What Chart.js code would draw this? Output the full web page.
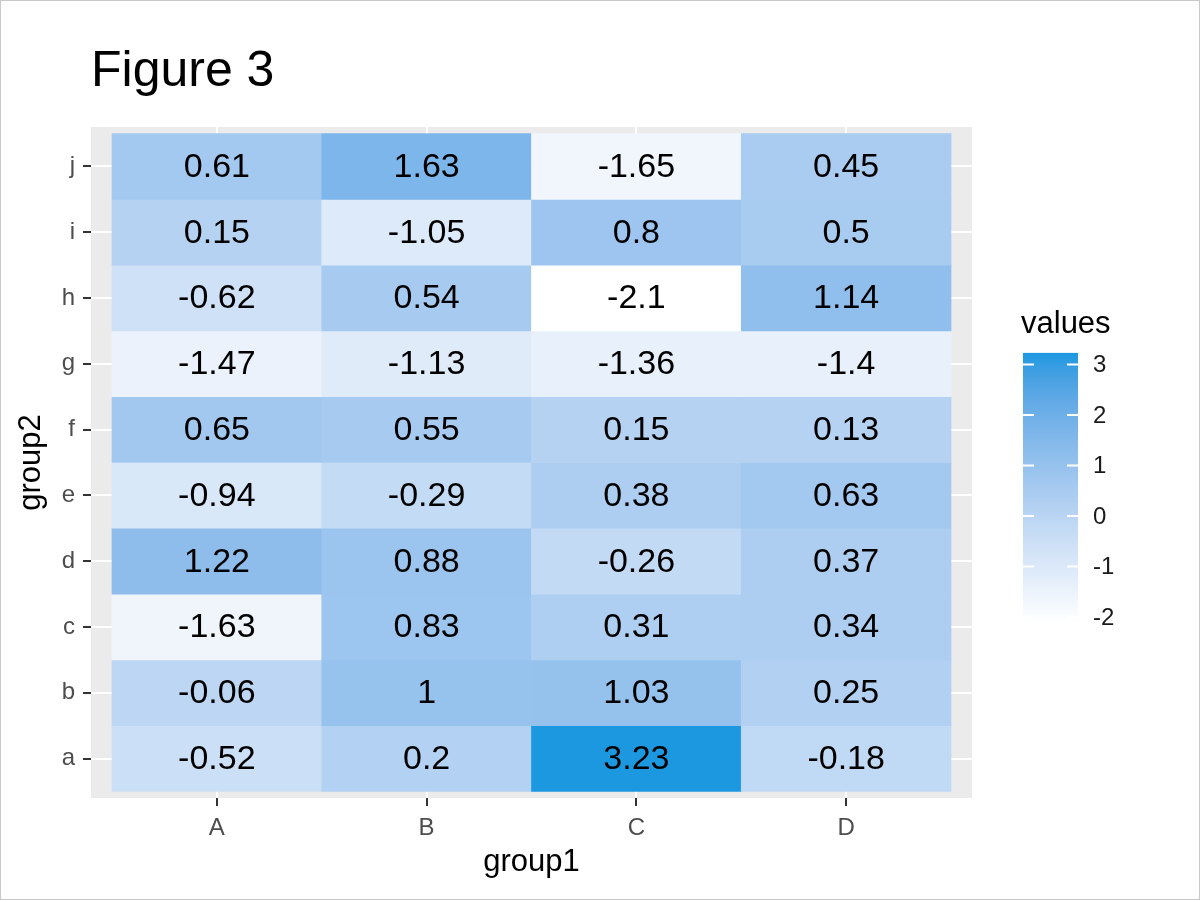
<!DOCTYPE html>
<html lang="en">
<head>
  <meta charset="UTF-8">
  <title>Figure 3</title>
  <script src="https://cdn.jsdelivr.net/npm/chart.js"></script>
  <style>
    body { margin: 0; background: #fff; }
    canvas { display: block; }
  </style>
</head>
<body>
  <canvas id="heat" width="1200" height="900"></canvas>
  <script>
    // categories
    const group1 = ['A', 'B', 'C', 'D'];
    const group2 = ['a', 'b', 'c', 'd', 'e', 'f', 'g', 'h', 'i', 'j'];

    // values per column, rows a..j
    const valuesA = [-0.52, -0.06, -1.63, 1.22, -0.94, 0.65, -1.47, -0.62, 0.15, 0.61];
    const valuesB = [0.2, 1, 0.83, 0.88, -0.29, 0.55, -1.13, 0.54, -1.05, 1.63];
    const valuesC = [3.23, 1.03, 0.31, -0.26, 0.38, 0.15, -1.36, -2.1, 0.8, -1.65];
    const valuesD = [-0.18, 0.25, 0.34, 0.37, 0.63, 0.13, -1.4, 1.14, 0.5, 0.45];
    const legendTicks = [3, 2, 1, 0, -1, -2];

    const columns = [valuesA, valuesB, valuesC, valuesD];
    const allVals = columns.flat();
    const vMin = Math.min(...allVals);
    const vMax = Math.max(...allVals);

    // white -> #1b98e0, interpolated in Lab like ggplot
    function toLin(c) { c /= 255; return c <= 0.04045 ? c / 12.92 : Math.pow((c + 0.055) / 1.055, 2.4); }
    function fromLin(c) { c = c <= 0.0031308 ? 12.92 * c : 1.055 * Math.pow(c, 1 / 2.4) - 0.055; return Math.round(Math.max(0, Math.min(1, c)) * 255); }
    const Wn = [0.95047, 1, 1.08883];
    function f(t) { return t > 0.008856 ? Math.cbrt(t) : 7.787 * t + 16 / 116; }
    function fi(t) { return t > 0.206893 ? t * t * t : (t - 16 / 116) / 7.787; }
    function rgb2lab([r, g, b]) {
      r = toLin(r); g = toLin(g); b = toLin(b);
      const x = (0.4124 * r + 0.3576 * g + 0.1805 * b) / Wn[0];
      const y = (0.2126 * r + 0.7152 * g + 0.0722 * b) / Wn[1];
      const z = (0.0193 * r + 0.1192 * g + 0.9505 * b) / Wn[2];
      return [116 * f(y) - 16, 500 * (f(x) - f(y)), 200 * (f(y) - f(z))];
    }
    function lab2rgb([L, a, b]) {
      const fy = (L + 16) / 116, fx = fy + a / 500, fz = fy - b / 200;
      const x = fi(fx) * Wn[0], y = fi(fy) * Wn[1], z = fi(fz) * Wn[2];
      const r = 3.2406 * x - 1.5372 * y - 0.4986 * z;
      const g = -0.9689 * x + 1.8758 * y + 0.0415 * z;
      const bb = 0.0557 * x - 0.2040 * y + 1.0570 * z;
      return 'rgb(' + fromLin(r) + ',' + fromLin(g) + ',' + fromLin(bb) + ')';
    }
    const labLow = rgb2lab([255, 255, 255]);
    const labHigh = rgb2lab([27, 152, 224]);
    function fillFor(v) {
      const t = (v - vMin) / (vMax - vMin);
      return lab2rgb(labLow.map((c, i) => c + (labHigh[i] - c) * t));
    }

    const cells = [];
    const colors = [];
    columns.forEach((col, ci) => {
      col.forEach((v, ri) => {
        cells.push({ x: ci + 1, y: [ri + 0.5, ri + 1.5], v: v });
        colors.push(fillFor(v));
      });
    });

    const decor = {
      id: 'decor',
      beforeDraw(chart) {
        const { ctx, chartArea: a } = chart;
        ctx.save();
        ctx.fillStyle = '#EBEBEB';
        ctx.fillRect(a.left, a.top, a.right - a.left, a.bottom - a.top);
        ctx.restore();
      },
      afterDraw(chart) {
        const { ctx, chartArea: a } = chart;
        ctx.save();
        // cell labels
        const meta = chart.getDatasetMeta(0);
        ctx.fillStyle = '#000';
        ctx.font = '34px "Liberation Sans", Arial, sans-serif';
        ctx.textAlign = 'center';
        ctx.textBaseline = 'middle';
        meta.data.forEach((bar, i) => {
          const p = bar.getProps(['x', 'y', 'base'], true);
          ctx.fillText(String(cells[i].v), p.x, (p.y + p.base) / 2 + 1);
        });

        // title
        ctx.textAlign = 'left';
        ctx.textBaseline = 'alphabetic';
        ctx.font = '50px "Liberation Sans", Arial, sans-serif';
        ctx.fillText('Figure 3', 91, 86);

        // axis titles
        ctx.font = '31px "Liberation Sans", Arial, sans-serif';
        ctx.textAlign = 'center';
        ctx.textBaseline = 'middle';
        ctx.fillText('group1', (a.left + a.right) / 2, 862);
        ctx.save();
        ctx.translate(31, (a.top + a.bottom) / 2);
        ctx.rotate(-Math.PI / 2);
        ctx.fillText('group2', 0, 0);
        ctx.restore();

        // colour bar legend
        const bx = 1023, bw = 55;
        const unit = 50.5, y0 = 516; // pixel of value 0
        const yOf = v => y0 - v * unit;
        const top = yOf(vMax), bot = yOf(vMin);
        const grad = ctx.createLinearGradient(0, bot, 0, top);
        for (let k = 0; k <= 20; k++) {
          grad.addColorStop(k / 20, fillFor(vMin + (vMax - vMin) * k / 20));
        }
        ctx.fillStyle = grad;
        ctx.fillRect(bx, top, bw, bot - top);
        ctx.strokeStyle = '#fff';
        ctx.lineWidth = 2;
        legendTicks.forEach(t => {
          const y = yOf(t);
          if (y < top || y > bot) return;
          ctx.beginPath();
          ctx.moveTo(bx, y); ctx.lineTo(bx + 11, y);
          ctx.moveTo(bx + bw - 11, y); ctx.lineTo(bx + bw, y);
          ctx.stroke();
        });
        ctx.fillStyle = '#1a1a1a';
        ctx.font = '24px "Liberation Sans", Arial, sans-serif';
        ctx.textAlign = 'left';
        legendTicks.forEach(t => ctx.fillText(String(t), 1093, yOf(t) + 1));
        ctx.fillStyle = '#000';
        ctx.font = '31px "Liberation Sans", Arial, sans-serif';
        ctx.textBaseline = 'alphabetic';
        ctx.fillText('values', 1021, 333);

        // outer frame
        ctx.strokeStyle = '#c8c8c8';
        ctx.lineWidth = 1;
        ctx.strokeRect(0.5, 0.5, chart.width - 1, chart.height - 1);
        ctx.restore();
      }
    };

    new Chart(document.getElementById('heat'), {
      type: 'bar',
      data: {
        datasets: [{
          data: cells,
          backgroundColor: colors,
          borderWidth: 0,
          barPercentage: 1,
          categoryPercentage: 1
        }]
      },
      options: {
        responsive: false,
        animation: false,
        layout: { padding: { left: 0, top: 127, right: 228, bottom: 0 } },
        plugins: { legend: { display: false }, tooltip: { enabled: false }, title: { display: false } },
        scales: {
          x: {
            type: 'linear',
            min: 0.4,
            max: 4.6,
            offset: false,
            afterBuildTicks: s => { s.ticks = group1.map((_, i) => ({ value: i + 1 })); },
            afterFit: s => { s.height = 102; },
            border: { display: false },
            grid: { offset: false, color: '#fff', lineWidth: 2, tickColor: '#333', tickLength: 8, tickWidth: 2 },
            ticks: {
              callback: v => group1[v - 1],
              color: '#4D4D4D',
              font: { size: 24, family: '"Liberation Sans", Arial, sans-serif' },
              padding: 8,
              maxRotation: 0
            }
          },
          y: {
            type: 'linear',
            min: 0.4,
            max: 10.6,
            afterBuildTicks: s => { s.ticks = group2.map((_, i) => ({ value: i + 1 })); },
            afterFit: s => { s.width = 91; },
            border: { display: false },
            grid: { color: '#fff', lineWidth: 2, tickColor: '#333', tickLength: 8, tickWidth: 2 },
            ticks: {
              callback: v => group2[v - 1],
              color: '#4D4D4D',
              font: { size: 24, family: '"Liberation Sans", Arial, sans-serif' },
              padding: 8
            }
          }
        }
      },
      plugins: [decor]
    });
  </script>
</body>
</html>
